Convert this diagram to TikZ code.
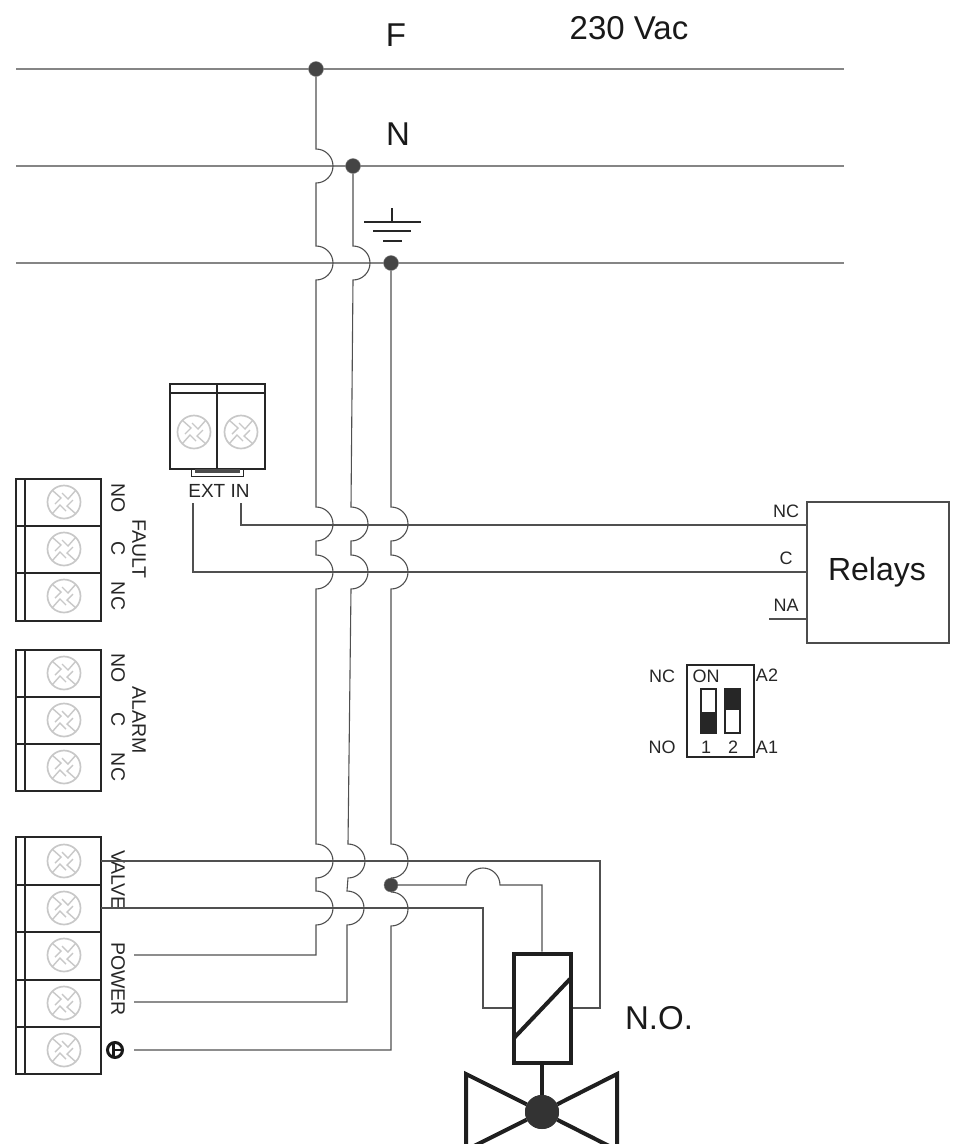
\documentclass[tikz,border=0pt]{standalone}
\usepackage{fontspec}
\setmainfont{Liberation Sans}
\definecolor{busgray}{HTML}{858585}
\definecolor{wiregray}{HTML}{505050}
\definecolor{screwgray}{HTML}{C8C8C8}
\definecolor{dotgray}{HTML}{444444}
\newcommand{\hopright}{arc[start angle=-90,end angle=90,radius=17]}
\begin{document}
\begin{tikzpicture}[
            x=1pt, y=-1pt,
            bus/.style={draw=busgray, line width=1.6pt},
            wire/.style={draw=wiregray, line width=1.1pt},
            block/.style={draw=black!85, line width=1.6pt},
            thick part/.style={draw=black!88, line width=4pt},
            junction/.style={circle, fill=dotgray, draw=busgray, line width=0.4pt, minimum size=15pt, inner sep=0pt},
            small label/.style={font=\fontsize{18}{20}\selectfont, inner sep=0pt, text=black!85},
            side label/.style={small label, font=\fontsize{19.5}{22}\selectfont, rotate=-90},
            big label/.style={font=\fontsize{33}{36}\selectfont, inner sep=0pt, text=black!90},
            screw/.pic={
                \draw[screwgray, line width=1.7pt] (0,0) circle[radius=16.5];
                \foreach \a in {0,90,180,270}
                    \draw[screwgray, line width=1.4pt, rotate=\a] (-12,-12) -- (-3,-4) -- (-9,2);
            }
        ]
        \clip (0,0) rectangle (955,1144);

        % Supply lines
        \coordinate (F-l) at (16,69);
        \coordinate (F-r) at (844,69);
        \coordinate (N-l) at (16,166);
        \coordinate (N-r) at (844,166);
        \coordinate (E-l) at (16,263);
        \coordinate (E-r) at (844,263);
        \draw[bus] (F-l) -- (F-r);
        \draw[bus] (N-l) -- (N-r);
        \draw[bus] (E-l) -- (E-r);
        \node[junction] (F-dot) at (316,69) {};
        \node[junction] (N-dot) at (353,166) {};
        \node[junction] (E-dot) at (391,263) {};
        \node[junction, minimum size=14pt] (V-dot) at (391,885) {};

        % Labels of the supply
        \node[big label] (F-text) at (396,35) {F};
        \node[big label] (N-text) at (398,134) {N};
        \node[big label] (V-text) at (629,28) {230 Vac};

        % Earth symbol
        \coordinate (G-top) at (392,208);
        \coordinate (G-mid) at (392,222);
        \draw[line width=2.6pt, black!85] (G-top) -- (G-mid);
        \draw[line width=2.6pt, black!85] (364,222) -- (421,222);
        \draw[line width=2.6pt, black!85] (373,231) -- (411,231);
        \draw[line width=2.6pt, black!85] (383,241) -- (402,241);

        % Terminal blocks on the left
        \foreach \top/\bot/\rows in {479/621/{526,573}, 650/791/{697,744}, 837/1074/{885,932,980,1027}} {
            \draw[block] (16,\top) rectangle (101,\bot);
            \draw[block] (25,\top) -- (25,\bot);
            \foreach \r in \rows
                \draw[block] (16,\r) -- (101,\r);
        }
        \foreach \y in {502,549,596,673,720,767,861,908,955,1003,1050}
            \pic at (64,\y) {screw};

        % External input terminal
        \draw[block] (170,384) rectangle (265,469);
        \draw[block] (170,393) -- (265,393);
        \draw[block] (217,384) -- (217,469);
        \draw[line width=1pt, black!85] (191,469) rectangle (243,476);
        \fill[black!70] (195,469) rectangle (240,473);
        \pic at (194,432) {screw};
        \pic at (241,432) {screw};
        \node[small label, font=\fontsize{19}{20}\selectfont] (ext-text) at (219,491) {EXT IN};

        % Labels of the terminals
        \node[side label] (fault-no) at (118,498) {NO};
        \node[side label] (fault-c) at (118,549) {C};
        \node[side label] (fault-nc) at (118,596) {NC};
        \node[side label] (fault-text) at (139,549) {FAULT};
        \node[side label] (alarm-no) at (118,668) {NO};
        \node[side label] (alarm-c) at (118,720) {C};
        \node[side label] (alarm-nc) at (118,767) {NC};
        \node[side label] (alarm-text) at (139,720) {ALARM};
        \node[side label] (valve-text) at (118,880) {VALVE};
        \node[side label] (power-text) at (118,979) {POWER};
        \node[circle, draw=black!90, fill=white, line width=3pt, minimum size=15pt, inner sep=0pt] (earth-sym) at (115,1050) {};
        \draw[black!90, line width=3pt] (113,1043) -- (113,1057);
        \draw[black!90, line width=1.4pt] (113,1050) -- (122,1050);

        % Relays
        \node[draw=black!70, line width=1.1pt, minimum width=142pt, minimum height=141pt, inner sep=0pt] (relays) at (878,572.5) {};
        \node[big label, font=\fontsize{32}{36}\selectfont] (relays-text) at (877,572) {Relays};
        \coordinate (relay-nc) at (807,525);
        \coordinate (relay-c) at (807,572);
        \coordinate (relay-na) at (807,619);
        \coordinate (na-end) at (769,619);
        \coordinate (ext-in) at (241,503);
        \coordinate (ext-c) at (193,503);
        \draw[wire] (ext-in) |- (relay-nc);
        \draw[wire] (ext-c) |- (relay-c);
        \draw[wire] (na-end) -- (relay-na);
        \node[small label] (nc-text) at (786,511) {NC};
        \node[small label] (c-text) at (786,558) {C};
        \node[small label] (na-text) at (786,605) {NA};

        % Wires with hops
        \coordinate (F-end) at (134,955);
        \coordinate (N-end) at (134,1002);
        \coordinate (E-end) at (134,1050);
        \draw[wire] (F-dot) -- (316,149) \hopright -- (316,246) \hopright -- (316,507) \hopright -- (316,555) \hopright
            -- (316,844) \hopright -- (316,891) \hopright |- (F-end);
        \draw[wire] (N-dot) -- (353,246) \hopright -- (351,507) \hopright -- (351,555) \hopright
            -- (348,844) \hopright -- (347,891) \hopright |- (N-end);
        \draw[wire] (E-dot) -- (391,507) \hopright -- (391,555) \hopright -- (391,844) \hopright;
        \draw[wire] (V-dot) ++(0,7) \hopright |- (E-end);

        % Valve with coil
        \node[draw=black!88, line width=4pt, minimum width=57pt, minimum height=109pt, inner sep=0pt, outer sep=2pt] (coil) at (542,1008) {};
        \node[circle, fill=black!80, minimum size=34pt, inner sep=0pt] (ball) at (542,1112) {};
        \draw[thick part] (coil.south) -- (ball);
        \draw[thick part] (514,1038) -- (570,979);
        \draw[thick part, line join=miter] (ball) -- (466,1074) -- (466,1150) -- (ball);
        \draw[thick part, line join=miter] (ball) -- (617,1074) -- (617,1150) -- (ball);
        \node[circle, fill=black!80, minimum size=34pt, inner sep=0pt] (ball-top) at (542,1112) {};
        \node[big label] (no-text) at (659,1018) {N.O.};

        % Valve connections
        \coordinate (valve-a) at (101,861);
        \coordinate (valve-b) at (101,908);
        \draw[wire] (valve-a) -- (600,861) |- (coil.east);
        \draw[wire] (valve-b) -- (483,908) |- (coil.west);
        \draw[wire] (V-dot) -- (466,885) arc[start angle=180,end angle=360,radius=17] -- (542,885) -- (coil.north);

        % DIP switch
        \node[draw=black!85, line width=1.8pt, minimum width=67pt, minimum height=92pt, inner sep=0pt] (dip) at (720.5,711) {};
        \draw[block] (701,689) rectangle (716,733);
        \fill[black!85] (701,712) rectangle (716,733);
        \draw[block] (725,689) rectangle (740,733);
        \fill[black!85] (725,689) rectangle (740,710);
        \node[small label] (dip-nc) at (662,676) {NC};
        \node[small label] (dip-no) at (662,747) {NO};
        \node[small label] (dip-on) at (706,676) {ON};
        \node[small label] (dip-a2) at (767,675) {A2};
        \node[small label] (dip-a1) at (767,747) {A1};
        \node[small label] (dip-1) at (706,747) {1};
        \node[small label] (dip-2) at (733,747) {2};

        \end{tikzpicture}
\end{document}
